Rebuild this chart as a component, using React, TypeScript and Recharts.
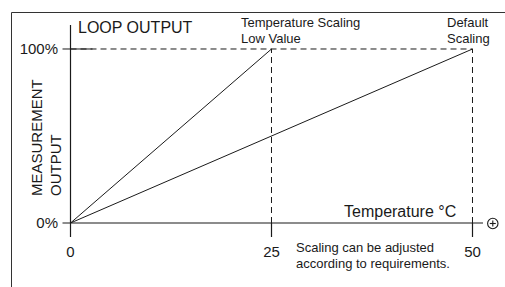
import React from 'react';
import { LineChart, Line, XAxis, YAxis, ReferenceLine, Customized } from 'recharts';

// ---- data ----
const xTicks = [0, 25, 50];
const xTickLabels = ['0', '25', '50'];
const yTicks = [0, 100];
const yTickLabels = ['0%', '100%'];

const lowValueTemps = [0, 25];
const lowValueOutput = [0, 100];
const defaultTemps = [0, 50];
const defaultOutput = [0, 100];

const lowValueData = lowValueTemps.map((t, i) => ({ temp: t, output: lowValueOutput[i] }));
const defaultData = defaultTemps.map((t, i) => ({ temp: t, output: defaultOutput[i] }));

const INK = '#1a1a1a';
const FONT = '"Liberation Sans", Arial, Helvetica, sans-serif';

const XTick = (props: any) => {
  const { x, y, payload } = props;
  const idx = xTicks.indexOf(payload.value);
  return (
    <text x={x} y={y} dy="0.71em" textAnchor="middle" fontSize={15} fill={INK} fontFamily={FONT}>
      {idx >= 0 ? xTickLabels[idx] : payload.value}
    </text>
  );
};

const YTick = (props: any) => {
  const { x, y, payload } = props;
  const idx = yTicks.indexOf(payload.value);
  const axisX = x + 12.5;
  return (
    <g>
      {payload.value === 100 && (
        <line x1={axisX} x2={axisX + 22} y1={y} y2={y} stroke={INK} strokeWidth={1} />
      )}
      <text x={x} y={y} dy="0.36em" textAnchor="end" fontSize={15} fill={INK} fontFamily={FONT}>
        {idx >= 0 ? yTickLabels[idx] : payload.value}
      </text>
    </g>
  );
};

const Decorations = () => (
  <g fontFamily={FONT} fill={INK}>
    <path d="M505 12.5 H11.5 V287" fill="none" stroke="#333" strokeWidth={1} />
    <text x={78} y={33} fontSize={16}>LOOP OUTPUT</text>
    <text x={241} y={27} fontSize={13}>Temperature Scaling</text>
    <text x={241} y={43} fontSize={13}>Low Value</text>
    <text x={447} y={27} fontSize={13}>Default</text>
    <text x={447} y={43} fontSize={13}>Scaling</text>
    <text x={344} y={217} fontSize={16}>Temperature °C</text>
    <text x={296} y={252} fontSize={13}>Scaling can be adjusted</text>
    <text x={296} y={268} fontSize={13}>according to requirements.</text>
    <text transform="translate(42,196) rotate(-90)" fontSize={15}>MEASUREMENT</text>
    <text transform="translate(61,196) rotate(-90)" fontSize={15}>OUTPUT</text>
    <circle cx={492.8} cy={223.5} r={5.2} fill="none" stroke={INK} strokeWidth={1.1} />
    <line x1={489.8} x2={495.8} y1={223.5} y2={223.5} stroke={INK} strokeWidth={1.1} />
    <line x1={492.8} x2={492.8} y1={220.5} y2={226.5} stroke={INK} strokeWidth={1.1} />
  </g>
);

export default function App() {
  return (
    <div style={{ position: 'absolute', left: 0, top: 0, width: 505, height: 287, background: '#fff' }}>
      <LineChart width={505} height={287} margin={{ top: 25, right: 22, bottom: 34, left: 0.5 }}>
        <XAxis
          type="number"
          dataKey="temp"
          domain={[0, 51.306]}
          allowDataOverflow
          ticks={xTicks}
          tick={<XTick />}
          tickSize={14}
          tickMargin={9.4}
          height={30}
          axisLine={{ stroke: INK, strokeWidth: 1.2 }}
          tickLine={{ stroke: INK, strokeWidth: 1.2 }}
        />
        <YAxis
          type="number"
          dataKey="output"
          domain={[0, 113.79]}
          allowDataOverflow
          ticks={yTicks}
          tick={<YTick />}
          tickSize={8}
          tickMargin={4.5}
          width={70}
          axisLine={{ stroke: INK, strokeWidth: 1.2 }}
          tickLine={{ stroke: INK, strokeWidth: 1 }}
        />
        <ReferenceLine
          segment={[{ x: 0, y: 100 }, { x: 50, y: 100 }]}
          stroke={INK}
          strokeWidth={1}
          strokeDasharray="6 4"
        />
        <ReferenceLine
          segment={[{ x: 25, y: 0 }, { x: 25, y: 100 }]}
          stroke={INK}
          strokeWidth={1}
          strokeDasharray="6 4"
        />
        <ReferenceLine
          segment={[{ x: 50, y: 0 }, { x: 50, y: 100 }]}
          stroke={INK}
          strokeWidth={1}
          strokeDasharray="6 4"
        />
        <Line
          data={lowValueData}
          dataKey="output"
          stroke={INK}
          strokeWidth={1}
          dot={false}
          isAnimationActive={false}
        />
        <Line
          data={defaultData}
          dataKey="output"
          stroke={INK}
          strokeWidth={1}
          dot={false}
          isAnimationActive={false}
        />
        <Customized component={Decorations} />
      </LineChart>
    </div>
  );
}
